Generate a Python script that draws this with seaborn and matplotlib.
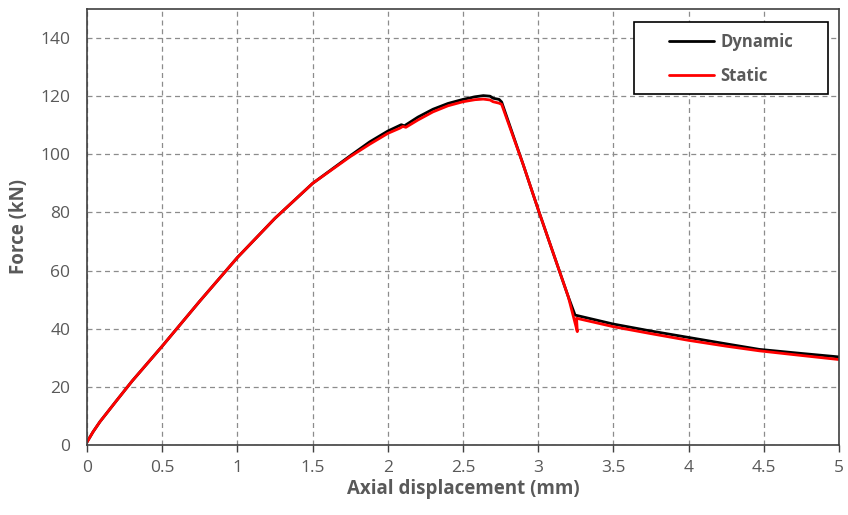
import numpy as np
import pandas as pd
import matplotlib
matplotlib.use("Agg")
import matplotlib.pyplot as plt
from matplotlib.patches import Rectangle
import seaborn as sns

# Data
dyn_x = [0.0, 0.04, 0.086, 0.2, 0.3, 0.5, 0.75, 1.0, 1.25, 1.5, 1.75, 1.88, 2.0, 2.09, 2.11,
         2.2, 2.3, 2.4, 2.5, 2.58, 2.635, 2.68, 2.70, 2.74, 2.757, 2.9, 3.0, 3.1, 3.2, 3.245,
         3.5, 3.74, 4.0, 4.25, 4.47, 4.75, 5.0]
dyn_y = [1.0, 4.5, 8.0, 15.5, 22.0, 34.0, 49.5, 64.5, 78.0, 90.0, 99.5, 104.3, 108.0, 110.2, 109.8,
         112.8, 115.5, 117.5, 118.9, 119.8, 120.2, 120.0, 119.3, 118.9, 118.0, 96.5, 81.0, 66.0, 51.0, 44.7,
         41.6, 39.3, 37.0, 34.8, 32.9, 31.5, 30.3]

sta_x = [0.0, 0.04, 0.086, 0.2, 0.3, 0.5, 0.75, 1.0, 1.25, 1.5, 1.75, 1.88, 2.0, 2.08, 2.10,
         2.12, 2.2, 2.3, 2.4, 2.5, 2.58, 2.635, 2.68, 2.70, 2.74, 2.757, 2.9, 3.0, 3.1, 3.2,
         3.26, 3.255, 3.5, 3.74, 4.0, 4.25, 4.47, 4.75, 5.0]
sta_y = [1.0, 4.5, 8.0, 15.5, 22.0, 34.0, 49.5, 64.5, 78.0, 90.0, 99.2, 103.5, 107.2, 109.0, 109.6,
         109.3, 111.8, 114.6, 116.7, 118.1, 118.8, 119.0, 118.7, 118.1, 117.6, 117.2, 96.5, 81.0, 66.0, 51.0,
         39.0, 43.6, 40.7, 38.4, 36.0, 34.0, 32.4, 30.8, 29.4]

xticks = [0, 0.5, 1, 1.5, 2, 2.5, 3, 3.5, 4, 4.5, 5]
xtick_labels = ["0", "0.5", "1", "1.5", "2", "2.5", "3", "3.5", "4", "4.5", "5"]
yticks = [0, 20, 40, 60, 80, 100, 120, 140]

df = pd.concat([
    pd.DataFrame({"x": dyn_x, "y": dyn_y, "series": "Dynamic"}),
    pd.DataFrame({"x": sta_x, "y": sta_y, "series": "Static"}),
], ignore_index=True)

sns.set_style("white")
plt.rcParams["font.family"] = ["Open Sans", "DejaVu Sans"]

fig = plt.figure(figsize=(8.48, 5.15), dpi=100)
AX_L, AX_R, AX_T, AX_B = 87, 839, 9, 445
ax = fig.add_axes([AX_L / 848, (515 - AX_B) / 515, (AX_R - AX_L) / 848, (AX_B - AX_T) / 515])
W, H = AX_R - AX_L, AX_B - AX_T

for name, color in [("Dynamic", "black"), ("Static", "red")]:
    sub = df[df["series"] == name]
    sns.lineplot(x=sub["x"].to_numpy(), y=sub["y"].to_numpy(), sort=False, estimator=None,
                 color=color, linewidth=2.0, ax=ax, label=name)

ax.set_xlim(0, 5)
ax.set_ylim(0, 150)
ax.set_xticks(xticks)
ax.set_xticklabels(xtick_labels)
ax.set_yticks(yticks)

ax.grid(True, linestyle=(0, (4, 3)), color="#8c8c8c", linewidth=0.9)
ax.set_axisbelow(True)

for side in ["left", "bottom", "top", "right"]:
    ax.spines[side].set_visible(True)
    ax.spines[side].set_color("#404040")
    ax.spines[side].set_linewidth(1.2)

ax.tick_params(axis="x", which="major", direction="out", length=5, width=1,
               color="#404040", bottom=True, labelsize=12.5, labelcolor="#595959", pad=6)
ax.tick_params(axis="y", which="major", left=False, length=0, labelsize=12.5,
               labelcolor="#595959", pad=12)

ax.set_xlabel("Axial displacement (mm)", fontsize=13.5, fontweight="bold", color="#595959", labelpad=2)
ax.set_ylabel("Force (kN)", fontsize=13.5, fontweight="bold", color="#595959", labelpad=8)

# legend box (reference frame: x 634-828, y 22-94 in pixels)
bx0, bx1, by0, by1 = 634, 828, 22, 94
box = Rectangle(((bx0 - AX_L) / W, (AX_B - by1) / H), (bx1 - bx0) / W, (by1 - by0) / H,
                transform=ax.transAxes, facecolor="white", edgecolor="black",
                linewidth=1.2, zorder=4.5, clip_on=False)
ax.add_patch(box)

leg = ax.legend(loc="center",
                bbox_to_anchor=(((bx0 + bx1) / 2 - AX_L) / W, (AX_B - (by0 + by1) / 2 - 1) / H),
                bbox_transform=ax.transAxes, frameon=False,
                prop={"weight": "bold", "size": 12}, handlelength=2.7,
                borderpad=0.0, labelspacing=0.95, handletextpad=0.4, borderaxespad=0)
leg.set_zorder(6)
for t in leg.get_texts():
    t.set_color("#595959")

fig.savefig("out.png", dpi=100)
